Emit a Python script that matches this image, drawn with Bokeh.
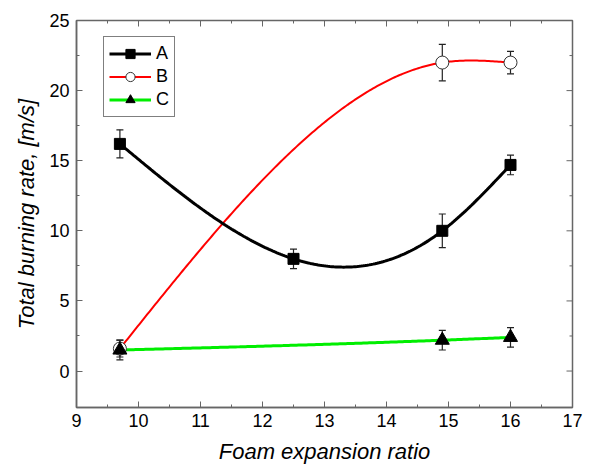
import numpy as np
from bokeh.plotting import figure
from bokeh.models import ColumnDataSource, Whisker, Legend, LegendItem, FixedTicker, Range1d
from bokeh.embed import file_html
from bokeh.resources import INLINE

# Measured burning rates vs. foam expansion ratio
x_a = [9.7, 12.5, 14.9, 16.0]
y_a = [16.2, 8.0, 10.0, 14.7]
e_a = [1.0, 0.7, 1.2, 0.7]

x_b = [9.7, 14.9, 16.0]
y_b = [1.6, 22.0, 22.0]
e_b = [0.6, 1.3, 0.8]

x_c = [9.7, 14.9, 16.0]
y_c = [1.5, 2.2, 2.4]
e_c = [0.7, 0.7, 0.7]

x_ticks = [9, 10, 11, 12, 13, 14, 15, 16, 17]
y_ticks = [0, 5, 10, 15, 20, 25]
x_minor = [v + 0.5 for v in x_ticks[:-1]]
y_minor = [v + 2.5 for v in y_ticks[:-1]]

X_MIN, X_MAX = 9, 17
Y_MIN, Y_MAX = -2.6, 25

FONT = "Liberation Sans"
AXIS_GREY = "#666666"


def natural_spline(xs, ys, n=200):
    """Natural cubic spline through the given points, for smooth connecting lines."""
    xs = np.asarray(xs, float)
    ys = np.asarray(ys, float)
    k = len(xs)
    h = np.diff(xs)
    A = np.zeros((k, k))
    r = np.zeros(k)
    A[0, 0] = A[-1, -1] = 1.0
    for i in range(1, k - 1):
        A[i, i - 1] = h[i - 1]
        A[i, i] = 2 * (h[i - 1] + h[i])
        A[i, i + 1] = h[i]
        r[i] = 3 * ((ys[i + 1] - ys[i]) / h[i] - (ys[i] - ys[i - 1]) / h[i - 1])
    c = np.linalg.solve(A, r)
    xx = np.linspace(xs[0], xs[-1], n)
    yy = np.empty_like(xx)
    for j, t in enumerate(xx):
        i = min(np.searchsorted(xs, t, side="right") - 1, k - 2)
        b = (ys[i + 1] - ys[i]) / h[i] - h[i] * (2 * c[i] + c[i + 1]) / 3
        d = (c[i + 1] - c[i]) / (3 * h[i])
        dx = t - xs[i]
        yy[j] = ys[i] + b * dx + c[i] * dx ** 2 + d * dx ** 3
    return xx, yy


p = figure(width=615, height=466, output_backend="svg", toolbar_location=None,
           x_range=Range1d(X_MIN, X_MAX), y_range=Range1d(Y_MIN, Y_MAX),
           min_border_left=76, min_border_right=43, min_border_top=20, min_border_bottom=58)
p.background_fill_color = "white"
p.border_fill_color = "white"
p.grid.visible = False
p.outline_line_color = AXIS_GREY
p.outline_line_width = 1.5

# smooth curves
xa, ya = natural_spline(x_a, y_a)
xb, yb = natural_spline(x_b, y_b)
xc, yc = natural_spline(x_c, y_c)

lb = p.line(xb, yb, line_color="#ff0000", line_width=2)
la = p.line(xa, ya, line_color="black", line_width=3)
lc = p.line(xc, yc, line_color="#00ee00", line_width=3)

# error bars
for xs, ys, es in [(x_b, y_b, e_b), (x_a, y_a, e_a), (x_c, y_c, e_c)]:
    src = ColumnDataSource(dict(x=xs, lo=[y - e for y, e in zip(ys, es)],
                                hi=[y + e for y, e in zip(ys, es)]))
    w = Whisker(source=src, base="x", lower="lo", upper="hi", line_color="#222222",
                line_width=1.2)
    for head in (w.upper_head, w.lower_head):
        head.size = 7
        head.line_color = "#222222"
        head.line_width = 1.2
    p.add_layout(w)

sb = p.scatter(x_b, y_b, marker="circle", size=13, fill_color="white",
               line_color="#333333", line_width=1)
sa = p.scatter(x_a, y_a, marker="square", size=11, fill_color="black", line_color="black")
sc = p.scatter(x_c, y_c, marker="triangle", size=14, fill_color="black", line_color="black")

# axes
for ax in (p.xaxis[0], p.yaxis[0]):
    ax.axis_line_color = AXIS_GREY
    ax.axis_line_width = 1.5
    ax.major_tick_line_color = AXIS_GREY
    ax.minor_tick_line_color = AXIS_GREY
    ax.major_tick_in = 6
    ax.major_tick_out = 0
    ax.minor_tick_in = 3
    ax.minor_tick_out = 0
    ax.major_label_text_font = FONT
    ax.major_label_text_font_size = "18px"
    ax.major_label_text_color = "black"
    ax.axis_label_text_font = FONT
    ax.axis_label_text_font_style = "italic"
    ax.axis_label_text_font_size = "22px"
    ax.axis_label_text_color = "black"

p.xaxis[0].ticker = FixedTicker(ticks=x_ticks, minor_ticks=x_minor)
p.yaxis[0].ticker = FixedTicker(ticks=y_ticks, minor_ticks=y_minor)
p.xaxis[0].axis_label = "Foam expansion ratio"
p.yaxis[0].axis_label = "Total burning rate, [m/s]"
p.xaxis[0].major_label_standoff = 6
p.yaxis[0].major_label_standoff = 7
p.xaxis[0].axis_label_standoff = 9
p.yaxis[0].axis_label_standoff = 7

# mirrored inward ticks on the top and right edges of the frame
p.ray(x=x_ticks, y=[Y_MAX] * len(x_ticks), length=6, angle=-np.pi / 2,
      length_units="screen", line_color=AXIS_GREY, line_width=1)
p.ray(x=x_minor, y=[Y_MAX] * len(x_minor), length=3, angle=-np.pi / 2,
      length_units="screen", line_color=AXIS_GREY, line_width=1)
p.ray(x=[X_MAX] * len(y_ticks), y=y_ticks, length=6, angle=np.pi,
      length_units="screen", line_color=AXIS_GREY, line_width=1)
p.ray(x=[X_MAX] * len(y_minor), y=y_minor, length=3, angle=np.pi,
      length_units="screen", line_color=AXIS_GREY, line_width=1)

legend = Legend(items=[LegendItem(label="A", renderers=[la, sa]),
                       LegendItem(label="B", renderers=[lb, sb]),
                       LegendItem(label="C", renderers=[lc, sc])],
                location=(27, 290))
legend.border_line_color = "black"
legend.border_line_width = 1.5
legend.background_fill_alpha = 1
legend.label_text_font = FONT
legend.label_text_font_size = "18px"
legend.label_text_color = "black"
legend.glyph_width = 42
legend.glyph_height = 23
legend.label_standoff = 5
legend.label_height = 23
legend.label_width = 12
legend.spacing = 0
legend.padding = 5
legend.margin = 0
p.add_layout(legend, "center")

open("out.html", "w").write(file_html(p, INLINE))
